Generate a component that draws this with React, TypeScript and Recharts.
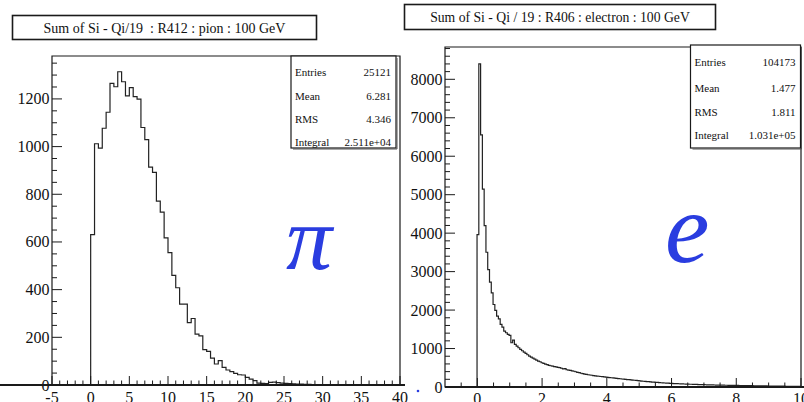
import React from 'react';
import { LineChart, Line, XAxis, YAxis, ReferenceArea } from 'recharts';

const FONT = '"Liberation Serif", "Times New Roman", serif';
const INK = '#1a1a1a';

// ---- Pion run (R412): Sum of Si - Qi/19, bins of 0.5 starting at 0 ----
const pionBinStart = 0;
const pionBinWidth = 0.5;
const pionCounts = [
  631, 1012, 994, 1077, 1144, 1265, 1251, 1314, 1272, 1213,
  1247, 1210, 1199, 1080, 1029, 914, 892, 771, 725, 617,
  555, 460, 408, 339, 339, 262, 279, 213, 206, 148,
  141, 113, 88, 102, 74, 63, 56, 49, 43, 42,
  32, 25, 18, 8, 7, 6, 11, 12, 10, 8,
  7, 6, 5, 4, 4, 3, 3, 2, 2, 2,
  1, 1, 1, 1, 1, 0,
];
const pionXLabels = [-5, 0, 5, 10, 15, 20, 25, 30, 35, 40];
const pionYLabels = [0, 200, 400, 600, 800, 1000, 1200];
const pionStats = [
  ['Entries', '25121'],
  ['Mean', '6.281'],
  ['RMS', '4.346'],
  ['Integral', '2.511e+04'],
];
const pionTitle = 'Sum of Si - Qi/19  : R412 : pion : 100 GeV';

// ---- Electron run (R406): Sum of Si - Qi / 19, bins of 0.055 ----
const eBinStart = -0.01;
const eBinWidth = 0.055;
const eCounts = [
  3962, 8400, 6557, 5147, 4195, 3503, 3054, 2725, 2448, 2145,
  1990, 1843, 1773, 1626, 1557, 1453, 1410, 1367, 1340, 1150,
  1220, 1107, 1064, 1020, 978, 943, 908, 874, 839, 804,
  779, 753, 727, 701, 675, 657, 631, 614, 597, 580,
  562, 552, 543, 530, 524, 512, 505, 488, 470, 476,
  448, 438, 430, 418, 409, 396, 381, 372, 358, 347,
  336, 326, 318, 312, 305, 298, 290, 284, 279, 273,
  268, 263, 257, 252, 246, 240, 236, 229, 225, 219,
  214, 208, 205, 199, 193, 190, 185, 180, 176, 170,
  165, 158, 154, 150, 145, 141, 138, 133, 129, 126,
  121, 118, 114, 111, 108, 104, 101, 99, 95, 93,
  90, 88, 86, 84, 82, 80, 78, 76, 74, 72,
  71, 69, 67, 66, 64, 63, 61, 60, 58, 57,
  56, 55, 54, 52, 51, 50, 49, 48, 47, 46,
  45, 44, 43, 42, 42, 41, 40, 39, 38, 37,
  37, 36, 35, 34, 34, 33, 32, 31, 30, 29,
  28, 27, 27, 26, 25, 25, 24, 23, 23, 22,
  22, 21, 21, 20, 20, 19, 19, 18, 18, 17,
  17, 16,
];
const eXLabels = [0, 2, 4, 6, 8, 10];
const eYLabels = [0, 1000, 2000, 3000, 4000, 5000, 6000, 7000, 8000];
const eStats = [
  ['Entries', '104173'],
  ['Mean', '1.477'],
  ['RMS', '1.811'],
  ['Integral', '1.031e+05'],
];
const eTitle = 'Sum of Si - Qi / 19 : R406 : electron : 100 GeV';

// Histogram outline as a step line: rises at the first bin edge, falls after the last one.
function toSteps(start: number, width: number, counts: number[]) {
  const pts: { x: number; y: number }[] = [{ x: start, y: 0 }];
  counts.forEach((c, i) => pts.push({ x: start + i * width, y: c }));
  pts.push({ x: start + counts.length * width, y: 0 });
  return pts;
}

function range(lo: number, hi: number, step: number) {
  const out: number[] = [];
  const n = Math.round((hi - lo) / step);
  for (let i = 0; i <= n; i++) out.push(+(lo + i * step).toFixed(6));
  return out;
}

// ROOT-style ticks: drawn inside the frame, long for labelled values.
function BottomTick(props: any) {
  const { x, y, payload, labels, dy } = props;
  const major = labels.includes(payload.value);
  const len = major ? 9 : 4.5;
  return (
    <g>
      <line x1={x} x2={x} y1={y} y2={y - len} stroke={INK} strokeWidth={1} />
      {major && (
        <text x={x} y={y + dy} textAnchor="middle" fontFamily={FONT} fontSize={16} fill="#111">
          {payload.value}
        </text>
      )}
    </g>
  );
}

function LeftTick(props: any) {
  const { x, y, payload, labels } = props;
  const major = labels.includes(payload.value);
  const len = major ? 10 : 5;
  return (
    <g>
      <line x1={x} x2={x + len} y1={y} y2={y} stroke={INK} strokeWidth={1} />
      {major && (
        <text x={x - 2.5} y={y + 5.5} textAnchor="end" fontFamily={FONT} fontSize={16} fill="#111">
          {payload.value}
        </text>
      )}
    </g>
  );
}

function Histogram(props: {
  width: number; height: number; margin: any; data: any[];
  xDomain: [number, number]; yDomain: [number, number];
  xTicks: number[]; yTicks: number[]; xLabels: number[]; yLabels: number[];
  yAxisWidth: number; xAxisHeight: number; labelDy: number;
}) {
  const p = props;
  return (
    <LineChart width={p.width} height={p.height} data={p.data} margin={p.margin}>
      <XAxis
        type="number" dataKey="x" domain={p.xDomain} ticks={p.xTicks} interval={0}
        allowDataOverflow axisLine={false} tickLine={false} tickSize={0} tickMargin={0}
        height={p.xAxisHeight}
        tick={(tp: any) => <BottomTick {...tp} labels={p.xLabels} dy={p.labelDy} />}
      />
      <YAxis
        type="number" domain={p.yDomain} ticks={p.yTicks} interval={0}
        allowDataOverflow axisLine={false} tickLine={false} tickSize={0} tickMargin={0}
        width={p.yAxisWidth}
        tick={(tp: any) => <LeftTick {...tp} labels={p.yLabels} />}
      />
      <ReferenceArea
        x1={p.xDomain[0]} x2={p.xDomain[1]} y1={p.yDomain[0]} y2={p.yDomain[1]}
        fill="none" stroke={INK} strokeWidth={1.2} ifOverflow="visible"
      />
      <Line
        dataKey="y" type="stepAfter" stroke="#222" strokeWidth={1.2}
        dot={false} activeDot={false} isAnimationActive={false}
      />
    </LineChart>
  );
}

function StatsBox(props: { x: number; y: number; w: number; h: number; rows: string[][]; rowY: number[] }) {
  const { x, y, w, h, rows, rowY } = props;
  return (
    <g>
      <rect x={x} y={y} width={w} height={h} fill="#fff" stroke={INK} strokeWidth={1.2} />
      <line x1={x + w + 1} x2={x + w + 1} y1={y + 2} y2={y + h + 1} stroke="#555" strokeWidth={1} />
      <line x1={x + 2} x2={x + w + 1} y1={y + h + 1} y2={y + h + 1} stroke="#555" strokeWidth={1} />
      {rows.map((r, i) => (
        <g key={r[0]}>
          <text x={x + 4} y={rowY[i]} fontFamily={FONT} fontSize={11} fill="#111">{r[0]}</text>
          <text x={x + w - 5} y={rowY[i]} textAnchor="end" fontFamily={FONT} fontSize={11} fill="#111">{r[1]}</text>
        </g>
      ))}
    </g>
  );
}

function TitleBox(props: { x: number; y: number; w: number; h: number; text: string; size: number }) {
  const { x, y, w, h, text, size } = props;
  return (
    <g>
      <rect x={x} y={y} width={w} height={h} fill="#fff" stroke={INK} strokeWidth={1.6} />
      <text
        x={x + w / 2} y={y + h / 2 + 5} textAnchor="middle" fontFamily={FONT} fontSize={size}
        fill="#111" style={{ whiteSpace: 'pre' }}
      >
        {text}
      </text>
    </g>
  );
}

export default function App() {
  const pionData = toSteps(pionBinStart, pionBinWidth, pionCounts);
  const eData = toSteps(eBinStart, eBinWidth, eCounts);

  return (
    <div style={{ position: 'absolute', left: 0, top: 0, width: 804, height: 402, overflow: 'hidden', background: '#fff' }}>
      <div style={{ position: 'absolute', left: 0, top: 0 }}>
        <Histogram
          width={410} height={402} margin={{ top: 56, right: 10, bottom: 0, left: 0 }}
          data={pionData} xDomain={[-5, 40]} yDomain={[0, 1380]}
          xTicks={range(-5, 40, 1)} yTicks={range(0, 1350, 50)}
          xLabels={pionXLabels} yLabels={pionYLabels}
          yAxisWidth={52} xAxisHeight={17} labelDy={17.5}
        />
      </div>
      <div style={{ position: 'absolute', left: 400, top: 0 }}>
        <Histogram
          width={404} height={402} margin={{ top: 47, right: 3, bottom: 0, left: 0 }}
          data={eData} xDomain={[-1, 10]} yDomain={[0, 8840]}
          xTicks={range(-0.5, 10, 0.5)} yTicks={range(0, 8800, 200)}
          xLabels={eXLabels} yLabels={eYLabels}
          yAxisWidth={45} xAxisHeight={15} labelDy={17}
        />
      </div>
      <svg width={804} height={402} style={{ position: 'absolute', left: 0, top: 0, pointerEvents: 'none' }}>
        {/* baseline running under the left pad */}
        <line x1={0} x2={405} y1={385} y2={385} stroke={INK} strokeWidth={2} />
        <line x1={445} x2={804} y1={387} y2={387} stroke={INK} strokeWidth={2} />
        <TitleBox x={12.5} y={15.5} w={304} h={24} text={pionTitle} size={14} />
        <TitleBox x={404.5} y={4.5} w={311} h={25} text={eTitle} size={13.7} />
        <StatsBox x={291} y={56} w={105} h={92} rows={pionStats} rowY={[75.5, 99.5, 123, 146]} />
        <StatsBox x={690.5} y={45} w={110} h={103} rows={eStats} rowY={[66, 92, 116, 139]} />
        <text x={286} y={269} fontFamily={FONT} fontStyle="italic" fontSize={92} fill="#2a3de0">π</text>
        <text x={665} y={262} fontFamily={FONT} fontStyle="italic" fontSize={100} fill="#2a3de0">e</text>
        <circle cx={418} cy={391} r={1.3} fill="#2a3de0" />
      </svg>
    </div>
  );
}
